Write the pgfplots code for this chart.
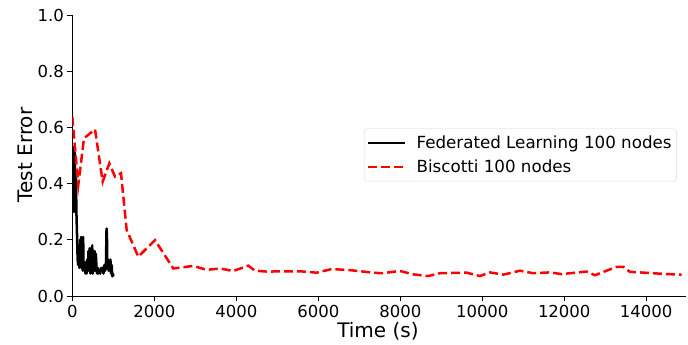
\documentclass[border=0pt]{standalone}
\usepackage{pgfplots}
\pgfplotsset{compat=1.18}
\usepackage{fontspec}
\setmainfont{DejaVu Sans}
\begin{document}
\begin{tikzpicture}
\begin{axis}[
  scale only axis,
  width=613.7pt, height=281pt,
  xmin=0, xmax=14970, ymin=0, ymax=1.0,
  axis x line*=bottom, axis y line*=left,
  axis line style={line width=0.8pt},
  tick align=outside,
  major tick length=5pt,
  every tick/.style={black, line width=0.8pt},
  xtick={0,2000,4000,6000,8000,10000,12000,14000},
  ytick={0,0.2,0.4,0.6,0.8,1.0},
  /pgf/number format/assume math mode=true,
  x tick label style={/pgf/number format/set thousands separator={}, /pgf/number format/fixed, font=\fontsize{16.5}{19}\selectfont, yshift=-1pt},
  y tick label style={/pgf/number format/fixed, /pgf/number format/fixed zerofill, /pgf/number format/precision=1, font=\fontsize{16.5}{19}\selectfont},
  scaled x ticks=false,
  xlabel={Time (s)}, ylabel={Test Error},
  label style={font=\fontsize{20}{24}\selectfont},
  x label style={at={(axis description cs:0.498,-0.125)}, anchor=center},
  y label style={at={(axis description cs:-0.077,0.502)}, anchor=center},
  legend style={at={(rel axis cs:0.985,0.502)}, anchor=east, draw=black!15, rounded corners=3pt, fill=white,
    font=\fontsize{16.7}{20}\selectfont, row sep=6pt, inner xsep=3pt, inner ysep=5pt},
  legend cell align=left,
  legend image code/.code={\draw[#1] (0pt,0pt) -- (37pt,0pt); \path (0pt,0pt) (45pt,0pt);},
]
\addplot[black, line width=2.5pt, line join=round] coordinates {
(0,0.52) (8,0.30) (15,0.50) (22,0.32) (30,0.53) (38,0.30) (45,0.48) (52,0.36) (60,0.51) (68,0.30) (75,0.45) (82,0.33) (90,0.42) (100,0.30) (115,0.22) (130,0.13) (145,0.11) (160,0.14) (175,0.10) (190,0.20) (205,0.12) (215,0.21) (225,0.10) (240,0.16) (255,0.09) (265,0.21) (275,0.10) (290,0.09) (305,0.12) (320,0.08) (335,0.10) (350,0.08) (365,0.13) (380,0.09) (395,0.16) (410,0.09) (425,0.17) (440,0.08) (455,0.14) (470,0.09) (485,0.18) (500,0.08) (515,0.11) (530,0.09) (545,0.16) (560,0.09) (575,0.15) (590,0.10) (605,0.08) (620,0.10) (640,0.08) (660,0.09) (680,0.08) (700,0.10) (720,0.09) (740,0.10) (760,0.08) (780,0.11) (800,0.09) (820,0.10) (835,0.24) (845,0.22) (855,0.10) (870,0.13) (885,0.09) (900,0.12) (915,0.10) (930,0.13) (945,0.08) (960,0.11) (975,0.07) (990,0.08) (1000,0.07)
};
\addlegendentry{Federated Learning 100 nodes}
\addplot[red, line width=2.5pt, dash pattern=on 9pt off 4pt] coordinates {
(0,0.638) (146,0.395) (285,0.561) (554,0.593) (741,0.407) (903,0.472) (1041,0.425) (1188,0.437) (1326,0.235) (1610,0.140) (2017,0.199) (2463,0.098) (2951,0.107) (3278,0.093) (3600,0.098) (3927,0.089) (4293,0.108) (4456,0.090) (4741,0.087) (5554,0.088) (5961,0.083) (6327,0.096) (6773,0.092) (7342,0.083) (7546,0.081) (7993,0.089) (8317,0.077) (8683,0.071) (8968,0.081) (9619,0.083) (9944,0.071) (10188,0.084) (10512,0.076) (10920,0.090) (11244,0.081) (11651,0.084) (11936,0.078) (12546,0.087) (12749,0.074) (13278,0.104) (13440,0.104) (13602,0.086) (14171,0.081) (14497,0.078) (14863,0.076)
};
\addlegendentry{Biscotti 100 nodes}
\end{axis}
\pgfresetboundingbox
\path (-72.3pt,-49pt) rectangle (615.7pt,296pt);
\end{tikzpicture}
\end{document}
